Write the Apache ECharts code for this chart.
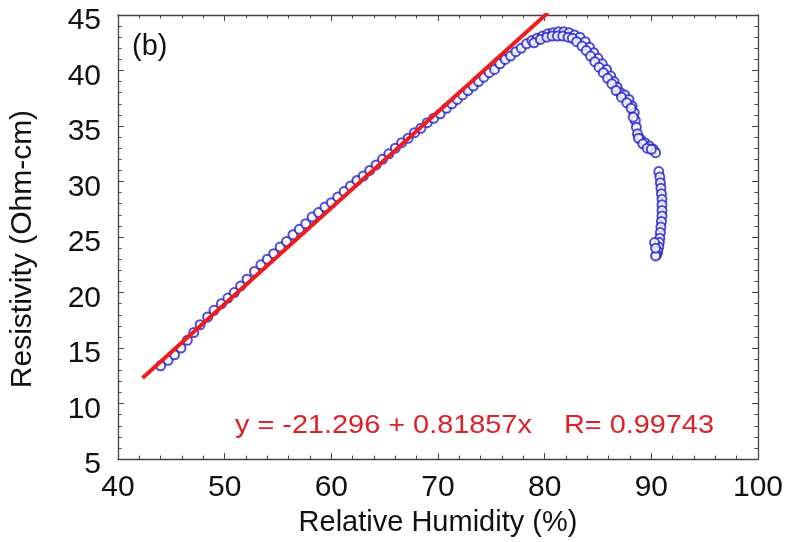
<!DOCTYPE html>
<html>
<head>
<meta charset="utf-8">
<script src="https://cdn.jsdelivr.net/npm/echarts@6/dist/echarts.min.js"></script>
<style>html,body{margin:0;padding:0;background:#fff}#c{width:786px;height:542px}</style>
</head>
<body>
<div id="c"></div>
<script>
// Relative humidity (%) of measured points
var humidity = [
  44.0,44.7,45.3,45.9,46.5,47.1,47.7,48.4,49.0,49.7,50.3,50.9,51.5,52.1,52.8,53.4,54.0,54.6,55.2,55.8,
  56.4,57.0,57.6,58.2,58.8,59.4,60.0,60.6,61.2,61.8,62.4,63.0,63.6,64.2,64.8,65.4,66.0,66.6,67.2,67.8,
  68.4,69.0,69.6,70.2,70.8,71.3,71.8,72.3,72.8,73.3,73.8,74.3,74.8,75.3,75.8,76.3,76.8,77.3,77.8,78.3,
  78.8,79.3,79.8,80.3,80.8,81.3,81.8,82.3,82.8,83.3,83.8,84.2,84.6,85.0,85.4,85.8,86.2,86.5,86.8,87.1,
  87.5,87.9,88.2,88.4,88.5,88.6,88.7,89.0,89.4,89.8,90.2,90.4,
  79.0,79.6,80.2,80.7,81.2,81.7,82.2,82.6,83.0,83.5,83.9,84.3,84.7,85.1,85.5,85.9,86.3,86.7,87.2,87.7,
  88.1,88.3,88.8,89.2,89.6,90.0,
  90.7,90.8,90.85,90.9,90.95,91.0,91.0,91.0,91.0,90.95,90.9,90.85,90.8,90.75,90.7,90.6,90.5,90.4,90.3,90.4
];
// Resistivity (Ohm-cm) of measured points
var resistivity = [
  13.4,13.9,14.4,15.0,15.7,16.4,17.1,17.8,18.4,19.0,19.5,20.0,20.6,21.2,21.9,22.5,23.0,23.5,24.1,24.6,
  25.2,25.7,26.2,26.8,27.2,27.7,28.1,28.6,29.1,29.6,30.1,30.5,31.0,31.5,32.0,32.5,33.0,33.5,33.9,34.4,
  34.8,35.3,35.7,36.1,36.6,37.0,37.4,37.8,38.2,38.6,39.0,39.4,39.8,40.1,40.6,41.0,41.3,41.7,42.0,42.4,
  42.7,42.9,43.1,43.3,43.4,43.5,43.5,43.4,43.2,43.0,42.6,42.1,41.6,41.1,40.6,40.1,39.5,39.0,38.5,38.0,
  37.8,37.4,36.8,36.2,35.5,34.9,34.3,33.8,33.5,33.2,32.9,32.6,
  42.5,42.8,43.0,43.1,43.1,43.1,43.0,42.9,42.6,42.2,41.8,41.3,40.8,40.3,39.8,39.3,38.8,38.2,37.6,37.1,
  36.6,35.8,33.9,33.4,33.0,32.9,
  30.9,30.4,29.9,29.4,28.9,28.4,27.9,27.4,26.9,26.4,25.9,25.4,24.9,24.5,24.1,23.7,23.4,23.3,24.5,24.0
];
// Drawn fit line end points
var fitX = [42.3, 80.3];
var fitY = [12.3, 45.2];
var xTicks = [40, 50, 60, 70, 80, 90, 100];
var yTicks = [5, 10, 15, 20, 25, 30, 35, 40, 45];
var equationText = 'y = -21.296 + 0.81857x    R= 0.99743';
var panelLabel = '(b)';

var points = humidity.map(function (h, i) { return [h, resistivity[i]]; });
var fit = fitX.map(function (x, i) { return [x, fitY[i]]; });

var FONT = '"Liberation Sans", Arial, sans-serif';
var axisCol = '#444';
function baseX(pos, show) {
  return {
    type: 'value', position: pos, min: xTicks[0], max: xTicks[xTicks.length - 1], interval: 10,
    axisLine: { show: true, onZero: false, lineStyle: { color: axisCol, width: 1.3 } },
    axisTick: { show: true, inside: true, length: 6, lineStyle: { color: axisCol } },
    minorTick: { show: true, splitNumber: 5, length: 3.5, lineStyle: { color: axisCol } },
    splitLine: { show: false },
    axisLabel: { show: show, color: '#111', fontSize: 30, fontFamily: FONT, margin: 14 }
  };
}
function baseY(pos, show) {
  return {
    type: 'value', position: pos, min: yTicks[0], max: yTicks[yTicks.length - 1], interval: 5,
    axisLine: { show: true, onZero: false, lineStyle: { color: axisCol, width: 1.3 } },
    axisTick: { show: true, inside: true, length: 6, lineStyle: { color: axisCol } },
    minorTick: { show: true, splitNumber: 5, length: 3.5, lineStyle: { color: axisCol } },
    splitLine: { show: false },
    axisLabel: { show: show, color: '#111', fontSize: 30, fontFamily: FONT, margin: 17, verticalAlign: 'top', lineHeight: 12 }
  };
}
var xb = baseX('bottom', true);
xb.name = 'Relative Humidity (%)';
xb.nameLocation = 'middle';
xb.nameGap = 46;
xb.nameTextStyle = { color: '#111', fontSize: 29, fontFamily: FONT };
var yl = baseY('left', true);
yl.name = 'Resistivity (Ohm-cm)';
yl.nameLocation = 'middle';
yl.nameGap = 80;
yl.nameTextStyle = { color: '#111', fontSize: 30, fontFamily: FONT, padding: [0, 24, 0, 0] };

var chart = echarts.init(document.getElementById('c'), null, { renderer: 'canvas' });
chart.setOption({
  backgroundColor: '#fff',
  animation: false,
  grid: { left: 118, top: 15, right: 27, bottom: 75, containLabel: false },
  xAxis: [xb, baseX('top', false)],
  yAxis: [yl, baseY('right', false)],
  series: [
    {
      type: 'scatter', xAxisIndex: 0, yAxisIndex: 0, data: points,
      symbol: 'emptyCircle', symbolSize: 9,
      itemStyle: { color: '#2020cc', borderColor: '#2020cc', borderWidth: 1.3 }
    },
    {
      type: 'line', xAxisIndex: 0, yAxisIndex: 0, data: fit, showSymbol: false, symbol: 'none',
      lineStyle: { color: '#ee1c1c', width: 4 }
    }
  ],
  graphic: [
    { type: 'text', left: 132, top: 32, style: { text: panelLabel, fontSize: 29, fontFamily: FONT, fill: '#111' } },
    { type: 'text', x: 235, y: 413, scaleX: 1.11, style: { text: equationText, fontSize: 26, fontFamily: FONT, fill: '#e02028' } }
  ]
});
</script>
</body>
</html>
